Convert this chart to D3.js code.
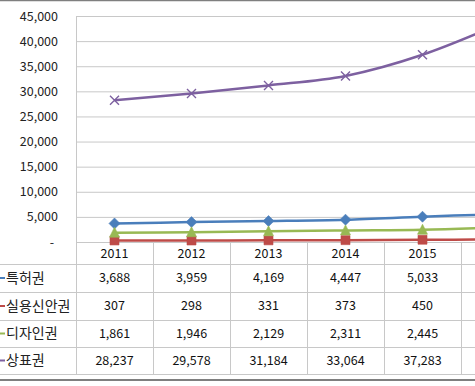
<!DOCTYPE html>
<html><head><meta charset="utf-8">
<script src="https://cdn.jsdelivr.net/npm/d3@7"></script>
<style>body{margin:0;background:#fff}svg{display:block}</style>
</head><body>
<svg id="c" width="475" height="386"></svg>
<script>
const years = ["2011","2012","2013","2014","2015","2016"];
const seriesNames = ["특허권","실용신안권","디자인권","상표권"];
const patent = [3688, 3959, 4169, 4447, 5033, 5560];
const utility = [307, 298, 331, 373, 450, 500];
const design = [1861, 1946, 2129, 2311, 2445, 2900];
const trademark = [28237, 29578, 31184, 33064, 37283, 43400];
const yTicks = [0,5000,10000,15000,20000,25000,30000,35000,40000,45000];
// table columns visible inside the picture (2016 column lies beyond the right edge)
const visibleYears = 5;

const colors = ["#4A7EBB","#BE4B48","#98B954","#7D60A0"];
const shapeKeys = ["diamond","square","triangle","x"];
const series = [patent, utility, design, trademark].map((v,i)=>({name:seriesNames[i], values:v, color:colors[i], shape:shapeKeys[i]}));

const svg = d3.select("#c");
const pLeft = 76, pTop = 16, pBottom = 242, bw = 77;
const x = d3.scaleBand().domain(years).range([pLeft, pLeft + bw*years.length]);
const y = d3.scaleLinear().domain([0,45000]).range([pBottom, pTop]);
const grid = "#c8c8c8";
const font = "'Noto Sans CJK KR', 'Noto Sans', sans-serif";

svg.append("g").selectAll("line").data(yTicks).join("line")
  .attr("x1", pLeft).attr("x2", 475).attr("y1", d=>y(d)+0.5).attr("y2", d=>y(d)+0.5)
  .attr("stroke", grid).attr("stroke-width", 1);

const yAxis = d3.axisLeft(y).tickValues(yTicks).tickSize(0).tickPadding(0)
  .tickFormat(d => d===0 ? "-" : d3.format(",")(d));
const ya = svg.append("g").attr("transform", `translate(58,0)`).call(yAxis);
ya.select(".domain").remove();
ya.selectAll("text").attr("font-family", font).attr("font-size", 12.5).attr("fill", "#222");
ya.selectAll(".tick").filter(d=>d===0).select("text").attr("dx", -4);

const rowY = [242, 264, 292, 320, 347, 374];
const tg = svg.append("g");
tg.append("line").attr("x1", pLeft+0.5).attr("x2", pLeft+0.5).attr("y1", pTop).attr("y2", rowY[5]).attr("stroke", grid);
tg.selectAll("line.sep").data(years.slice(1)).join("line").attr("class","sep")
  .attr("x1", d=>x(d)+0.5).attr("x2", d=>x(d)+0.5).attr("y1", pBottom).attr("y2", rowY[5]).attr("stroke", grid);
tg.selectAll("line.row").data(rowY.slice(1)).join("line").attr("class","row")
  .attr("x1", 0).attr("x2", 475).attr("y1", d=>d+0.5).attr("y2", d=>d+0.5).attr("stroke", grid);

tg.selectAll("text.yr").data(years.slice(0, visibleYears)).join("text").attr("class","yr")
  .attr("x", d=>x(d)+bw/2).attr("y", (rowY[0]+rowY[1])/2+1).attr("dy","0.35em")
  .attr("text-anchor","middle").attr("font-family", font).attr("font-size", 12.5).attr("fill","#111").text(d=>d);

series.forEach((s,i)=>{
  const cy = (rowY[i+1]+rowY[i+2])/2;
  tg.append("line").attr("x1",0).attr("x2",5).attr("y1",cy).attr("y2",cy).attr("stroke",s.color).attr("stroke-width",2);
  tg.append("text").attr("x",6).attr("y",cy).attr("dy","0.35em").attr("font-family",font).attr("font-size",14).attr("fill","#222").text(s.name);
  tg.selectAll(null).data(s.values.slice(0, visibleYears)).join("text")
    .attr("x",(d,j)=>x(years[j])+bw/2).attr("y",cy).attr("dy","0.35em").attr("text-anchor","middle")
    .attr("font-family",font).attr("font-size",12.5).attr("fill","#111").text(d=>d3.format(",")(d));
});

const line = d3.line().x((d,j)=>x(years[j])+bw/2).y(d=>y(d)).curve(d3.curveCardinal.tension(0));
const lg = svg.append("g");
series.forEach(s=>{
  lg.append("path").attr("d", line(s.values)).attr("fill","none").attr("stroke",s.color).attr("stroke-width",2.5).attr("stroke-linejoin","round");
});
const markerPath = {
  diamond: "M0,-5.5L5.5,0L0,5.5L-5.5,0Z",
  square: "M-4.5,-4.5H4.5V4.5H-4.5Z",
  triangle: "M0,-5.5L5,4.5H-5Z",
  x: "M-4.5,-4.5L4.5,4.5M4.5,-4.5L-4.5,4.5"
};
series.forEach(s=>{
  lg.selectAll(null).data(s.values).join("path")
    .attr("transform",(d,j)=>`translate(${x(years[j])+bw/2},${y(d)})`)
    .attr("d", markerPath[s.shape])
    .attr("fill", s.shape==="x" ? "none" : s.color)
    .attr("stroke", s.color)
    .attr("stroke-width", s.shape==="x" ? 1.4 : 0.6);
});

svg.append("line").attr("x1",0).attr("x2",475).attr("y1",0.5).attr("y2",0.5).attr("stroke","#7f7f7f").attr("stroke-width",1.5);
svg.append("line").attr("x1",0).attr("x2",475).attr("y1",380).attr("y2",380).attr("stroke","#7f7f7f").attr("stroke-width",2);
</script>
</body></html>
